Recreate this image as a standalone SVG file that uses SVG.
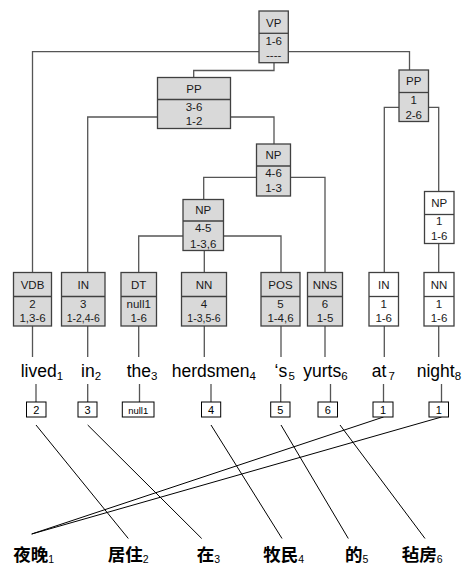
<svg xmlns="http://www.w3.org/2000/svg" width="463" height="565" viewBox="0 0 463 565">
<style>
.box{fill:#d9d9d9;stroke:#404040;stroke-width:1.3}
.wbox{fill:#ffffff;stroke:#404040;stroke-width:1.3}
.div{stroke:#404040;stroke-width:1.3}
.t{font-family:"Liberation Sans",Arial,sans-serif;font-size:11.5px;fill:#1a1a1a;text-anchor:middle}
.tn{font-size:10.5px}
.tree{fill:none;stroke:#555;stroke-width:1.3}
.diag{fill:none;stroke:#000;stroke-width:1}
.w{font-family:"Liberation Sans",Arial,sans-serif;font-size:17.5px;fill:#000}
.sub{font-size:11.5px}
.sb{fill:#fff;stroke:#000;stroke-width:1}
.st{font-family:"Liberation Sans",Arial,sans-serif;font-size:11px;fill:#000;text-anchor:middle}
.zh{font-family:"Noto Sans CJK SC",sans-serif;font-size:17.5px;font-weight:bold;fill:#000}
.zs{font-family:"Liberation Sans",Arial,sans-serif;font-size:10.5px;font-weight:normal}
</style>
<g id="connectors">
<path class="tree" d="M259 51.7H32.5V272.5M288.3 51.7H409.5V70"/>
<path class="tree" d="M274 62.7V70.5H193.7V77.5"/>
<path class="tree" d="M157.5 117H87.7V272.5M230.5 117H274V144"/>
<path class="tree" d="M399 107.3H384.3V272.5M428.5 107.3H438.7V191.5"/>
<path class="tree" d="M256.5 177.3H203.7V199.5M290.5 177.3H325V272.5"/>
<path class="tree" d="M183 236H138.7V272.5M223.5 236H281V272.5M204.3 250.5V272.5"/>
<path class="tree" d="M438.7 243.5V272.5"/>
<path class="tree" d="M32.5 326V357M87.7 326V357M138.7 326V357M204.3 326V357M281 326V357M325 326V357M384.3 326V357M438.7 326V357"/>
<path class="tree" d="M36 384V402M87.7 384V402M139.5 384V402M211 384V402M280.7 384V402M330.5 384V402M383.5 384V402M441.5 384V402"/>
<path class="diag" d="M36 425L128.3 538.5M87.7 425L201.7 538.5M211 425L282 538.5M281 425L348.3 538.5M340 425L425 538.5M383.5 417L31.7 534M441.5 417L31.7 534"/>
</g>
<g id="VP"><rect class="box" x="259" y="11" width="29.3" height="51.7"/><line class="div" x1="259" y1="33.3" x2="288.3" y2="33.3"/><text class="t" x="273.7" y="26.5">VP</text><text class="t" x="273.7" y="44.5">1-6</text><text class="t" x="273.7" y="59">----</text></g>
<g id="PP1"><rect class="box" x="157.5" y="77.5" width="73" height="51"/><line class="div" x1="157.5" y1="99.5" x2="230.5" y2="99.5"/><text class="t" x="194" y="93">PP</text><text class="t" x="194" y="111">3-6</text><text class="t" x="194" y="125">1-2</text></g>
<g id="PP2"><rect class="box" x="399" y="70" width="29.5" height="51.5"/><line class="div" x1="399" y1="92.5" x2="428.5" y2="92.5"/><text class="t" x="413.7" y="85">PP</text><text class="t" x="413.7" y="104">1</text><text class="t" x="413.7" y="119">2-6</text></g>
<g id="NP1"><rect class="box" x="256.5" y="144" width="34" height="52"/><line class="div" x1="256.5" y1="166" x2="290.5" y2="166"/><text class="t" x="273.5" y="159">NP</text><text class="t" x="273.5" y="177">4-6</text><text class="t" x="273.5" y="191.5">1-3</text></g>
<g id="NP2"><rect class="box" x="183" y="199.5" width="40.5" height="51"/><line class="div" x1="183" y1="221" x2="223.5" y2="221"/><text class="t" x="203.2" y="214">NP</text><text class="t" x="203.2" y="232">4-5</text><text class="t" x="203.2" y="247.5">1-3,6</text></g>
<g id="NP3"><rect class="wbox" x="424.5" y="191.5" width="29.5" height="52"/><line class="div" x1="424.5" y1="214.5" x2="454" y2="214.5"/><text class="t" x="439.2" y="207">NP</text><text class="t" x="439.2" y="225">1</text><text class="t" x="439.2" y="240">1-6</text></g>
<g id="VDB"><rect class="box" x="13.5" y="272.5" width="38" height="53.5"/><line class="div" x1="13.5" y1="296.5" x2="51.5" y2="296.5"/><text class="t" x="32.5" y="289">VDB</text><text class="t" x="32.5" y="307.5">2</text><text class="t" x="32.5" y="321.5">1,3-6</text></g>
<g id="IN1"><rect class="box" x="61.5" y="272.5" width="43.5" height="53.5"/><line class="div" x1="61.5" y1="296.5" x2="105" y2="296.5"/><text class="t" x="83.3" y="289">IN</text><text class="t" x="83.3" y="307.5">3</text><text class="t tn" x="83.3" y="321.5">1-2,4-6</text></g>
<g id="DT"><rect class="box" x="121" y="272.5" width="35.5" height="53.5"/><line class="div" x1="121" y1="296.5" x2="156.5" y2="296.5"/><text class="t" x="138.7" y="289">DT</text><text class="t" x="138.7" y="307.5">null1</text><text class="t" x="138.7" y="321.5">1-6</text></g>
<g id="NN1"><rect class="box" x="181.5" y="272.5" width="45" height="53.5"/><line class="div" x1="181.5" y1="296.5" x2="226.5" y2="296.5"/><text class="t" x="204" y="289">NN</text><text class="t" x="204" y="307.5">4</text><text class="t tn" x="204" y="321.5">1-3,5-6</text></g>
<g id="POS"><rect class="box" x="261" y="272.5" width="39" height="53.5"/><line class="div" x1="261" y1="296.5" x2="300" y2="296.5"/><text class="t" x="280.5" y="289">POS</text><text class="t" x="280.5" y="307.5">5</text><text class="t" x="280.5" y="321.5">1-4,6</text></g>
<g id="NNS"><rect class="box" x="307.5" y="272.5" width="35" height="53.5"/><line class="div" x1="307.5" y1="296.5" x2="342.5" y2="296.5"/><text class="t" x="325" y="289">NNS</text><text class="t" x="325" y="307.5">6</text><text class="t" x="325" y="321.5">1-5</text></g>
<g id="IN2"><rect class="wbox" x="369" y="272.5" width="29.5" height="53.5"/><line class="div" x1="369" y1="296.5" x2="398.5" y2="296.5"/><text class="t" x="383.7" y="289">IN</text><text class="t" x="383.7" y="307.5">1</text><text class="t" x="383.7" y="321.5">1-6</text></g>
<g id="NN2"><rect class="wbox" x="424" y="272.5" width="30" height="53.5"/><line class="div" x1="424" y1="296.5" x2="454" y2="296.5"/><text class="t" x="439" y="289">NN</text><text class="t" x="439" y="307.5">1</text><text class="t" x="439" y="321.5">1-6</text></g>
<g id="words">
<text class="w" x="20.7" y="377">lived<tspan class="sub" dy="3">1</tspan></text>
<text class="w" x="81" y="377">in<tspan class="sub" dy="3">2</tspan></text>
<text class="w" x="126.7" y="377">the<tspan class="sub" dy="3">3</tspan></text>
<text class="w" x="171.7" y="377">herdsmen<tspan class="sub" dy="3">4</tspan></text>
<text class="w" x="274.5" y="377">‘s<tspan class="sub" x="288.5" dy="3">5</tspan></text>
<text class="w" x="303.3" y="377">yurts<tspan class="sub" dy="3">6</tspan></text>
<text class="w" x="371.7" y="377">at<tspan class="sub" x="388.5" dy="3">7</tspan></text>
<text class="w" x="416.7" y="377">night<tspan class="sub" dy="3">8</tspan></text>
</g>
<g id="align2"><rect class="sb" x="26.5" y="402" width="19.5" height="15"/><text class="st" x="36.2" y="413.5">2</text></g>
<g id="align3"><rect class="sb" x="78" y="402" width="19" height="15"/><text class="st" x="87.5" y="413.5">3</text></g>
<g id="alignnull1"><rect class="sb" x="122.3" y="402" width="31.7" height="15"/><text class="st" x="138.2" y="413.5" style="font-size:9.5px">null1</text></g>
<g id="align4"><rect class="sb" x="201.5" y="402" width="19.2" height="15"/><text class="st" x="211.1" y="413.5">4</text></g>
<g id="align5"><rect class="sb" x="270.7" y="402" width="19.3" height="15"/><text class="st" x="280.3" y="413.5">5</text></g>
<g id="align6"><rect class="sb" x="318" y="402" width="19.5" height="15"/><text class="st" x="327.7" y="413.5">6</text></g>
<g id="align1a"><rect class="sb" x="373" y="402" width="20" height="15"/><text class="st" x="383" y="413.5">1</text></g>
<g id="align1b"><rect class="sb" x="429" y="402" width="19.5" height="15"/><text class="st" x="438.7" y="413.5">1</text></g>
<g id="chinese">
<text class="zh" x="13.3" y="561">夜晚<tspan class="zs" dy="2">1</tspan></text>
<text class="zh" x="107.7" y="561">居住<tspan class="zs" dy="2">2</tspan></text>
<text class="zh" x="196.7" y="561">在<tspan class="zs" dy="2">3</tspan></text>
<text class="zh" x="263.3" y="561">牧民<tspan class="zs" dy="2">4</tspan></text>
<text class="zh" x="345" y="561">的<tspan class="zs" dy="2">5</tspan></text>
<text class="zh" x="401.7" y="561">毡房<tspan class="zs" dy="2">6</tspan></text>
</g>
</svg>
